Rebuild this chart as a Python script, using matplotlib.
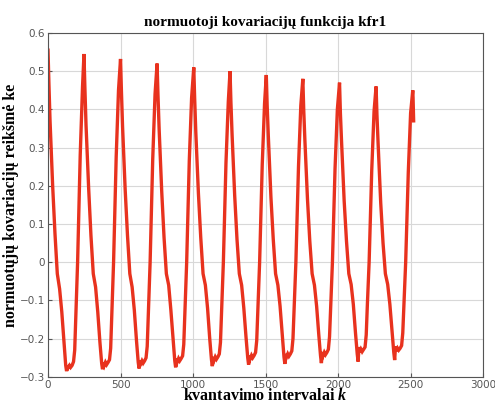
import numpy as np
import matplotlib
matplotlib.use("Agg")
import matplotlib.pyplot as plt

plt.rcParams['mathtext.fontset'] = 'custom'
plt.rcParams['mathtext.it'] = 'Liberation Serif:italic:bold'
plt.rcParams['mathtext.rm'] = 'Liberation Serif:bold'

# sample offsets inside one period (k)
k_off = [0, 6, 14, 32, 48, 64, 80, 95, 110, 122, 128, 134, 140, 148, 156, 166, 176, 184, 192, 204, 222, 238]

# start (peak) of every period
starts = [0, 248, 500, 752, 1005, 1255, 1505, 1757, 2010, 2262]

# values, one list per period
c1 = [0.555, 0.47, 0.37, 0.20, 0.075, -0.03, -0.07, -0.13, -0.21, -0.27, -0.285, -0.27, -0.275, -0.27, -0.275, -0.27, -0.26, -0.23, -0.14, 0.0, 0.28, 0.46]
c2 = [0.545, 0.46, 0.36, 0.195, 0.07, -0.03, -0.065, -0.13, -0.21, -0.265, -0.28, -0.262, -0.27, -0.262, -0.268, -0.262, -0.255, -0.225, -0.135, 0.0, 0.275, 0.45]
c3 = [0.532, 0.45, 0.355, 0.19, 0.07, -0.03, -0.065, -0.125, -0.205, -0.262, -0.278, -0.258, -0.265, -0.258, -0.264, -0.258, -0.25, -0.22, -0.13, 0.0, 0.27, 0.44]
c4 = [0.52, 0.44, 0.35, 0.185, 0.065, -0.03, -0.06, -0.125, -0.2, -0.258, -0.275, -0.252, -0.26, -0.252, -0.258, -0.252, -0.245, -0.215, -0.13, 0.0, 0.265, 0.43]
c5 = [0.51, 0.43, 0.34, 0.18, 0.065, -0.03, -0.06, -0.12, -0.2, -0.255, -0.272, -0.248, -0.256, -0.248, -0.254, -0.248, -0.24, -0.21, -0.125, 0.0, 0.26, 0.42]
c6 = [0.50, 0.42, 0.335, 0.175, 0.06, -0.03, -0.06, -0.12, -0.195, -0.25, -0.268, -0.245, -0.252, -0.244, -0.25, -0.244, -0.236, -0.205, -0.12, 0.0, 0.255, 0.415]
c7 = [0.49, 0.41, 0.33, 0.17, 0.06, -0.03, -0.06, -0.115, -0.19, -0.248, -0.266, -0.24, -0.248, -0.24, -0.246, -0.24, -0.232, -0.2, -0.12, 0.0, 0.25, 0.41]
c8 = [0.48, 0.40, 0.32, 0.165, 0.055, -0.03, -0.06, -0.115, -0.19, -0.245, -0.264, -0.235, -0.244, -0.236, -0.242, -0.236, -0.228, -0.195, -0.115, 0.0, 0.245, 0.40]
c9 = [0.47, 0.39, 0.315, 0.16, 0.055, -0.03, -0.058, -0.11, -0.185, -0.24, -0.26, -0.222, -0.236, -0.228, -0.234, -0.228, -0.222, -0.19, -0.11, 0.0, 0.24, 0.395]
c10 = [0.46, 0.385, 0.31, 0.155, 0.05, -0.03, -0.058, -0.11, -0.18, -0.236, -0.256, -0.22, -0.232, -0.225, -0.23, -0.225, -0.218, -0.185, -0.11, 0.0, 0.235, 0.39]
cycles = [c1, c2, c3, c4, c5, c6, c7, c8, c9, c10]

# last peak and the end of the record
k_tail = [2515, 2517, 2521]
y_tail = [0.45, 0.43, 0.37]

k = []
y = []
for s, c in zip(starts, cycles):
    k += [s + o for o in k_off]
    y += c
k += k_tail
y += y_tail

fig = plt.figure(figsize=(4.95, 4.07), dpi=100)
ax = fig.add_axes([0.097, 0.074, 0.879, 0.845])

ax.plot(k, y, color='#e8321e', linewidth=2.4, solid_joinstyle='miter')

ax.set_xlim(0, 3000)
ax.set_ylim(-0.3, 0.6)
ax.set_xticks(np.arange(0, 3001, 500))
ax.set_yticks(np.round(np.arange(-0.3, 0.61, 0.1), 1))
ax.set_yticklabels(['\u22120.3', '\u22120.2', '\u22120.1', '0', '0.1', '0.2', '0.3', '0.4', '0.5', '0.6'])
ax.grid(True, color='#d8d8d8', linewidth=0.8)
ax.tick_params(labelsize=7.5, colors='#555555', direction='in', length=3, pad=2)
for sp in ax.spines.values():
    sp.set_color('#555555')

ax.set_title('normuotoji kovariacijų funkcija kfr1', family='Liberation Serif',
             fontweight='bold', fontsize=11, pad=5)
ax.set_xlabel('kvantavimo intervalai $\\it{k}$', family='Liberation Serif',
              fontweight='bold', fontsize=11.5, labelpad=-1)
ax.set_ylabel('normuotųjų kovariacijų reikšmė ke', family='Liberation Serif',
              fontweight='bold', fontsize=11.5, labelpad=1)

fig.savefig('out.png', dpi=100)
